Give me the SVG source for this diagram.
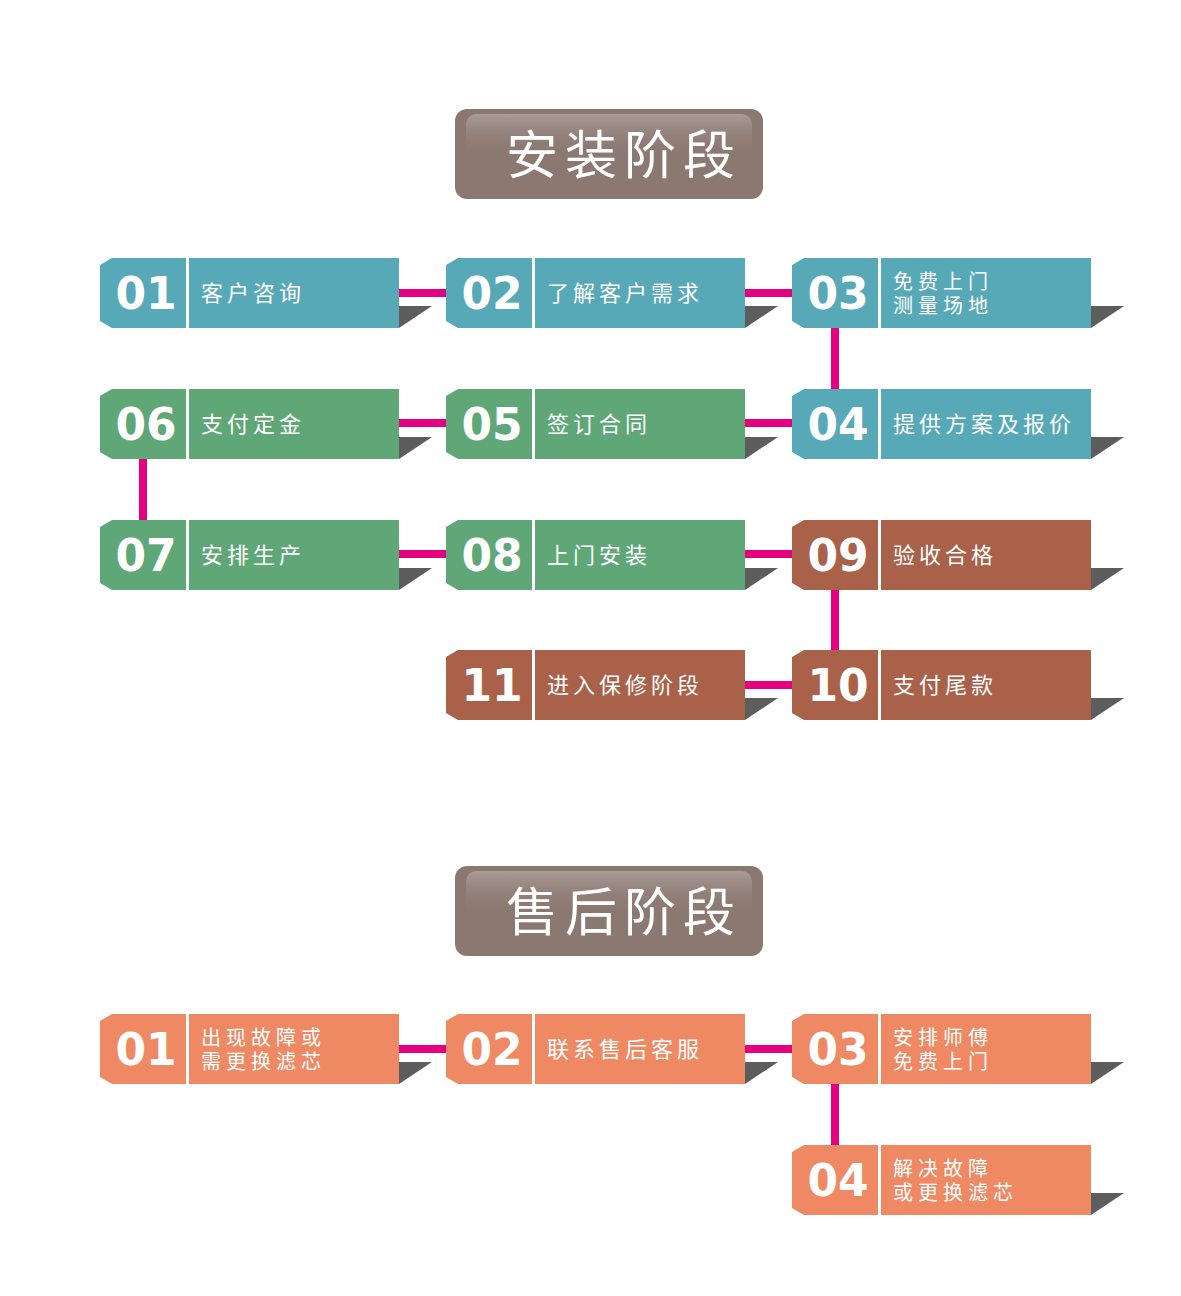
<svg xmlns="http://www.w3.org/2000/svg" width="1181" height="1296" viewBox="0 0 1181 1296">
<defs>
<linearGradient id="hl" x1="0" y1="0" x2="0" y2="1">
<stop offset="0" stop-color="#aa9c96"/>
<stop offset="1" stop-color="#8b7871" stop-opacity="0"/>
</linearGradient>
</defs>
<style>
.num{font-family:"DejaVu Sans",sans-serif;font-weight:bold;font-size:44px;fill:#fff;text-anchor:middle}
.lbl{font-family:"Noto Sans CJK SC",sans-serif;font-size:22px;fill:#fff;letter-spacing:4px}
.lb2{font-family:"Noto Sans CJK SC",sans-serif;font-size:20px;fill:#fff;letter-spacing:5px}
.ttl{font-family:"Noto Sans CJK SC",sans-serif;font-size:52px;fill:#fff;letter-spacing:7px}
.sh{fill:#5d5d5d}
.div{stroke:#fff;stroke-width:3}
.teal{fill:#57a9b7}.green{fill:#5fa777}.brown{fill:#a9614a}.orange{fill:#ee8964}
.con{stroke:#e4007f;stroke-width:8;fill:none}
.tbox{fill:#8b7871}
</style>
<rect width="1181" height="1296" fill="#fff"/>

<g id="title1">
<rect class="tbox" x="455" y="109" width="308" height="90" rx="12"/>
<rect x="466" y="114" width="286" height="44" rx="10" fill="url(#hl)"/>
<text class="ttl" x="506" y="174">安装阶段</text>
</g>
<g id="title2">
<rect class="tbox" x="455" y="866" width="308" height="90" rx="12"/>
<rect x="466" y="871" width="286" height="44" rx="10" fill="url(#hl)"/>
<text class="ttl" x="506" y="931">售后阶段</text>
</g>

<g id="connectors">
<line class="con" x1="399" y1="293" x2="447" y2="293"/>
<line class="con" x1="745" y1="293" x2="793" y2="293"/>
<line class="con" x1="835" y1="327" x2="835" y2="390"/>
<line class="con" x1="399" y1="423" x2="447" y2="423"/>
<line class="con" x1="745" y1="423" x2="793" y2="423"/>
<line class="con" x1="143" y1="458" x2="143" y2="521"/>
<line class="con" x1="399" y1="554" x2="447" y2="554"/>
<line class="con" x1="745" y1="554" x2="793" y2="554"/>
<line class="con" x1="835" y1="589" x2="835" y2="651"/>
<line class="con" x1="745" y1="685" x2="793" y2="685"/>
<line class="con" x1="399" y1="1049" x2="447" y2="1049"/>
<line class="con" x1="745" y1="1049" x2="793" y2="1049"/>
<line class="con" x1="835" y1="1083" x2="835" y2="1146"/>
</g>

<g id="a01" transform="translate(100,258)">
<path class="sh" d="M299,48 H332 L299,70 Z"/>
<path class="teal" d="M12,0 H299 V70 H12 L0,63 V7 Z"/>
<line class="div" x1="87.5" y1="0" x2="87.5" y2="70"/>
<text class="num" x="46" y="51">01</text>
<text class="lbl" x="101" y="43">客户咨询</text>
</g>
<g id="a02" transform="translate(446,258)">
<path class="sh" d="M299,48 H332 L299,70 Z"/>
<path class="teal" d="M12,0 H299 V70 H12 L0,63 V7 Z"/>
<line class="div" x1="87.5" y1="0" x2="87.5" y2="70"/>
<text class="num" x="46" y="51">02</text>
<text class="lbl" x="101" y="43">了解客户需求</text>
</g>
<g id="a03" transform="translate(792,258)">
<path class="sh" d="M299,48 H332 L299,70 Z"/>
<path class="teal" d="M12,0 H299 V70 H12 L0,63 V7 Z"/>
<line class="div" x1="87.5" y1="0" x2="87.5" y2="70"/>
<text class="num" x="46" y="51">03</text>
<text class="lb2" x="101" y="31">免费上门</text>
<text class="lb2" x="101" y="55">测量场地</text>
</g>
<g id="a04" transform="translate(792,389)">
<path class="sh" d="M299,48 H332 L299,70 Z"/>
<path class="teal" d="M12,0 H299 V70 H12 L0,63 V7 Z"/>
<line class="div" x1="87.5" y1="0" x2="87.5" y2="70"/>
<text class="num" x="46" y="51">04</text>
<text class="lbl" x="101" y="43">提供方案及报价</text>
</g>
<g id="a05" transform="translate(446,389)">
<path class="sh" d="M299,48 H332 L299,70 Z"/>
<path class="green" d="M12,0 H299 V70 H12 L0,63 V7 Z"/>
<line class="div" x1="87.5" y1="0" x2="87.5" y2="70"/>
<text class="num" x="46" y="51">05</text>
<text class="lbl" x="101" y="43">签订合同</text>
</g>
<g id="a06" transform="translate(100,389)">
<path class="sh" d="M299,48 H332 L299,70 Z"/>
<path class="green" d="M12,0 H299 V70 H12 L0,63 V7 Z"/>
<line class="div" x1="87.5" y1="0" x2="87.5" y2="70"/>
<text class="num" x="46" y="51">06</text>
<text class="lbl" x="101" y="43">支付定金</text>
</g>
<g id="a07" transform="translate(100,520)">
<path class="sh" d="M299,48 H332 L299,70 Z"/>
<path class="green" d="M12,0 H299 V70 H12 L0,63 V7 Z"/>
<line class="div" x1="87.5" y1="0" x2="87.5" y2="70"/>
<text class="num" x="46" y="51">07</text>
<text class="lbl" x="101" y="43">安排生产</text>
</g>
<g id="a08" transform="translate(446,520)">
<path class="sh" d="M299,48 H332 L299,70 Z"/>
<path class="green" d="M12,0 H299 V70 H12 L0,63 V7 Z"/>
<line class="div" x1="87.5" y1="0" x2="87.5" y2="70"/>
<text class="num" x="46" y="51">08</text>
<text class="lbl" x="101" y="43">上门安装</text>
</g>
<g id="a09" transform="translate(792,520)">
<path class="sh" d="M299,48 H332 L299,70 Z"/>
<path class="brown" d="M12,0 H299 V70 H12 L0,63 V7 Z"/>
<line class="div" x1="87.5" y1="0" x2="87.5" y2="70"/>
<text class="num" x="46" y="51">09</text>
<text class="lbl" x="101" y="43">验收合格</text>
</g>
<g id="a10" transform="translate(792,650)">
<path class="sh" d="M299,48 H332 L299,70 Z"/>
<path class="brown" d="M12,0 H299 V70 H12 L0,63 V7 Z"/>
<line class="div" x1="87.5" y1="0" x2="87.5" y2="70"/>
<text class="num" x="46" y="51">10</text>
<text class="lbl" x="101" y="43">支付尾款</text>
</g>
<g id="a11" transform="translate(446,650)">
<path class="sh" d="M299,48 H332 L299,70 Z"/>
<path class="brown" d="M12,0 H299 V70 H12 L0,63 V7 Z"/>
<line class="div" x1="87.5" y1="0" x2="87.5" y2="70"/>
<text class="num" x="46" y="51">11</text>
<text class="lbl" x="101" y="43">进入保修阶段</text>
</g>

<g id="b01" transform="translate(100,1014)">
<path class="sh" d="M299,48 H332 L299,70 Z"/>
<path class="orange" d="M12,0 H299 V70 H12 L0,63 V7 Z"/>
<line class="div" x1="87.5" y1="0" x2="87.5" y2="70"/>
<text class="num" x="46" y="51">01</text>
<text class="lb2" x="101" y="31">出现故障或</text>
<text class="lb2" x="101" y="55">需更换滤芯</text>
</g>
<g id="b02" transform="translate(446,1014)">
<path class="sh" d="M299,48 H332 L299,70 Z"/>
<path class="orange" d="M12,0 H299 V70 H12 L0,63 V7 Z"/>
<line class="div" x1="87.5" y1="0" x2="87.5" y2="70"/>
<text class="num" x="46" y="51">02</text>
<text class="lbl" x="101" y="43">联系售后客服</text>
</g>
<g id="b03" transform="translate(792,1014)">
<path class="sh" d="M299,48 H332 L299,70 Z"/>
<path class="orange" d="M12,0 H299 V70 H12 L0,63 V7 Z"/>
<line class="div" x1="87.5" y1="0" x2="87.5" y2="70"/>
<text class="num" x="46" y="51">03</text>
<text class="lb2" x="101" y="31">安排师傅</text>
<text class="lb2" x="101" y="55">免费上门</text>
</g>
<g id="b04" transform="translate(792,1145)">
<path class="sh" d="M299,48 H332 L299,70 Z"/>
<path class="orange" d="M12,0 H299 V70 H12 L0,63 V7 Z"/>
<line class="div" x1="87.5" y1="0" x2="87.5" y2="70"/>
<text class="num" x="46" y="51">04</text>
<text class="lb2" x="101" y="31">解决故障</text>
<text class="lb2" x="101" y="55">或更换滤芯</text>
</g>
</svg>
